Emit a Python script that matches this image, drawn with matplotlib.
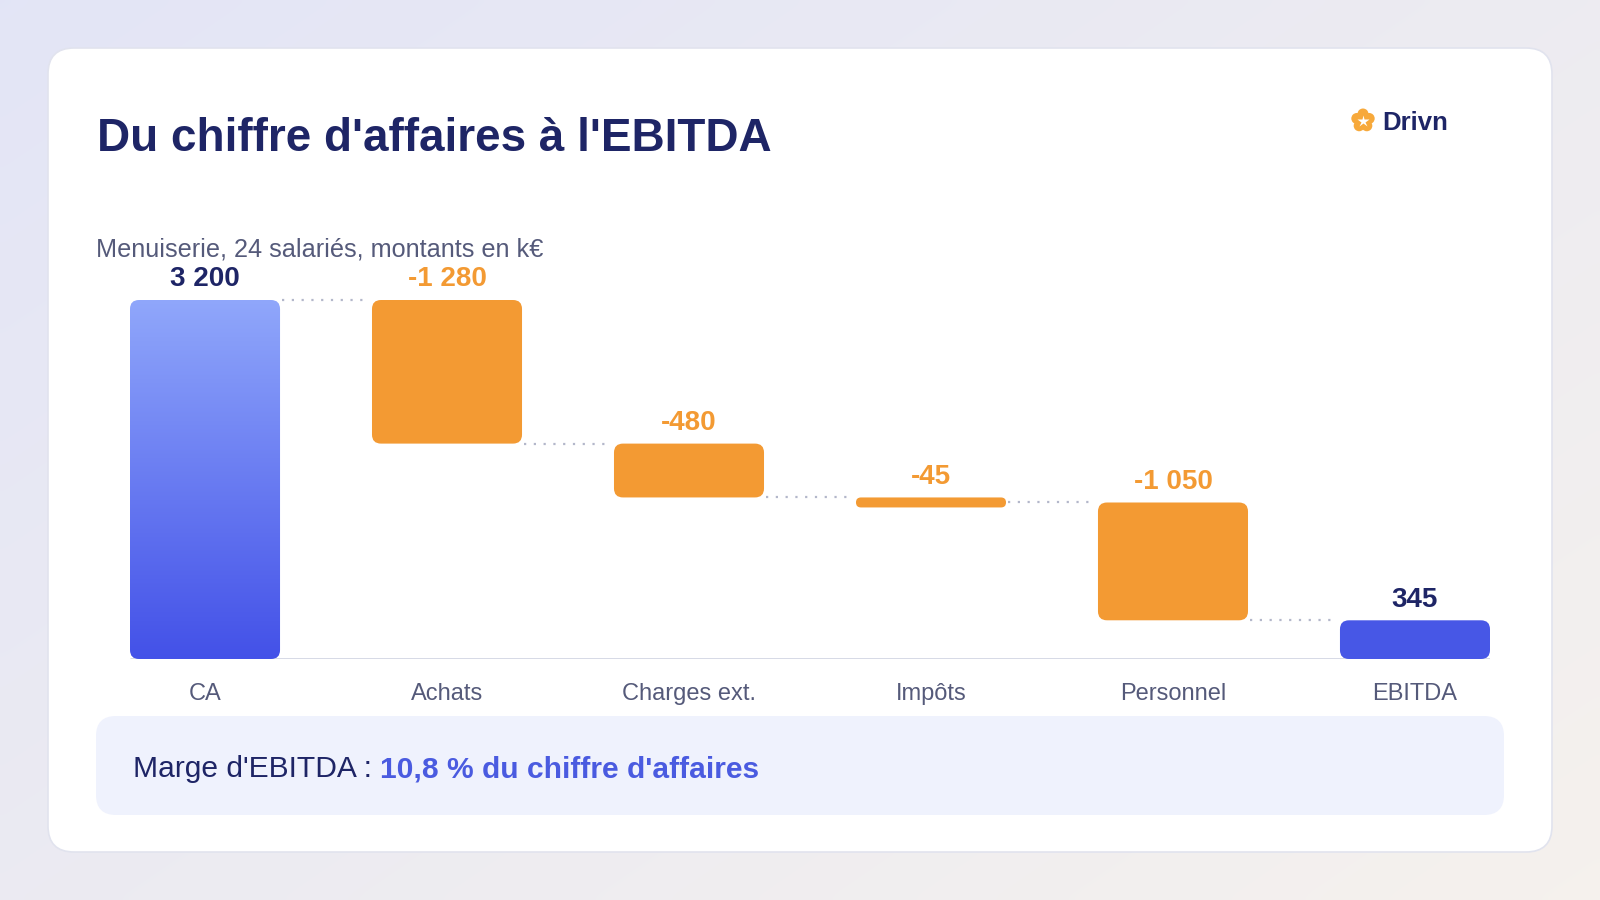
import numpy as np
import matplotlib
matplotlib.use('Agg')
import matplotlib.pyplot as plt
from matplotlib.patches import FancyBboxPatch, Circle
from matplotlib.colors import LinearSegmentedColormap

# ---------------- data ----------------
categories = ["CA", "Achats", "Charges ext.", "Impôts", "Personnel", "EBITDA"]
values = [3200, -1280, -480, -45, -1050, 345]
kinds = ["total", "delta", "delta", "delta", "delta", "total"]
value_labels = ["3 200", "-1 280", "-480", "-45", "-1 050", "345"]

title = "Du chiffre d'affaires à l'EBITDA"
subtitle = "Menuiserie, 24 salariés, montants en k€"
margin_label = "Marge d'EBITDA : "
margin_value = "10,8 % du chiffre d'affaires"
brand = "Drivn"

# ---------------- style ----------------
plt.rcParams['font.family'] = ['Liberation Sans', 'DejaVu Sans']
NAVY = '#1e2566'
ORANGE = '#f39a33'
BLUE = '#4757e6'
GRAY_TXT = '#555a7a'

W, H = 1600, 900
fig = plt.figure(figsize=(16, 9), dpi=100)
bg = fig.add_axes([0, 0, 1, 1])
bg.axis('off')

# background gradient
xx, yy = np.meshgrid(np.linspace(0, 1, 200), np.linspace(0, 1, 120))
t = np.clip(0.55 * xx + 0.45 * yy, 0, 1)
c0 = np.array([0.890, 0.898, 0.965])
c1 = np.array([0.962, 0.946, 0.930])
img = c0[None, None, :] * (1 - t[..., None]) + c1[None, None, :] * t[..., None]
bg.imshow(img, extent=(0, W, H, 0), aspect='auto', zorder=0, interpolation='bicubic')
bg.set_xlim(0, W)
bg.set_ylim(H, 0)

# card
bg.add_patch(FancyBboxPatch((48, 48), 1504, 804, boxstyle='round,pad=0,rounding_size=26',
                            fc='white', ec='#e1e3ee', lw=1.2, zorder=1))
# bottom box
bg.add_patch(FancyBboxPatch((96, 716), 1408, 99, boxstyle='round,pad=0,rounding_size=20',
                            fc='#eff2fd', ec='none', zorder=2))

# texts
bg.text(97, 151, title, fontsize=33, fontweight='bold', color=NAVY, va='baseline', ha='left', zorder=3)
bg.text(96, 256, subtitle, fontsize=18.2, color=GRAY_TXT, va='baseline', ha='left', zorder=3)
t1 = bg.text(133, 777, margin_label, fontsize=21.6, color=NAVY, va='baseline', ha='left', zorder=3)
bg.annotate(margin_value, xy=(1, 0), xycoords=t1, fontsize=21.6, fontweight='bold',
            color='#4a5be0', va='bottom', ha='left', zorder=3)

# logo
cx, cy = 1363, 120.5
for k in range(5):
    a = np.pi / 2 + k * 2 * np.pi / 5
    bg.add_patch(Circle((cx + 6.5 * np.cos(a), cy - 6.5 * np.sin(a)), 5.5, fc='#f7a93b', ec='none', zorder=3))
bg.add_patch(Circle((cx, cy), 7, fc='#f7a93b', ec='none', zorder=3))
bg.plot([cx], [cy], marker='*', ms=9, color='white', mec='none', zorder=4)
bg.text(1382, 129.5, brand, fontsize=18.5, fontweight='bold', color=NAVY, va='baseline', ha='left', zorder=3)

# ---------------- chart ----------------
ax_l, ax_r, ax_b, ax_t = 130, 1490, 659, 300
ax = fig.add_axes([ax_l / W, (H - ax_b) / H, (ax_r - ax_l) / W, (ax_b - ax_t) / H])
ax.patch.set_alpha(0)
ax.axis('off')
XMIN, XMAX = -0.31, len(categories) - 1 + 0.31
YMAX = 3200
ax.set_xlim(XMIN, XMAX)
ax.set_ylim(0, YMAX)
px = (ax_r - ax_l) / (XMAX - XMIN)   # pixels per x unit
py = (ax_b - ax_t) / YMAX            # pixels per y unit
bw = 0.62
MIN_H_PX = 10

ax.plot([XMIN, XMAX], [0, 0], color='#d3d6e4', lw=2.0, solid_capstyle='butt', zorder=1)

cmap = LinearSegmentedColormap.from_list('g', ['#4351e8', '#90a7fb'])
running = 0
levels = []
for i, (v, k) in enumerate(zip(values, kinds)):
    if k == 'total':
        bottom, top = 0, v
        running = v
    else:
        new = running + v
        bottom, top = min(running, new), max(running, new)
        running = new
    levels.append(running)
    h = top - bottom
    draw_bottom = bottom
    if h * py < MIN_H_PX:
        draw_bottom = top - MIN_H_PX / py
    dh = top - draw_bottom
    r_px = min(9, dh * py / 2, bw * px / 2)
    patch = FancyBboxPatch((i - bw / 2, draw_bottom), bw, dh,
                           boxstyle=f"round,pad=0,rounding_size={r_px / px}",
                           mutation_aspect=px / py, lw=0, zorder=3)
    if k == 'total' and i == 0:
        patch.set_facecolor('none')
        patch.set_edgecolor('none')
        ax.add_patch(patch)
        grad = np.linspace(0, 1, 256)[:, None]
        im = ax.imshow(grad, extent=(i - bw / 2, i + bw / 2, draw_bottom, top), origin='lower',
                       cmap=cmap, aspect='auto', zorder=3)
        im.set_clip_path(patch)
        col = NAVY
    elif k == 'total':
        patch.set_facecolor(BLUE)
        ax.add_patch(patch)
        col = NAVY
    else:
        patch.set_facecolor(ORANGE)
        ax.add_patch(patch)
        col = ORANGE
    ax.annotate(value_labels[i], xy=(i, top), xytext=(0, 13.5), textcoords='offset pixels',
                ha='center', va='baseline', fontsize=20, fontweight='bold', color=col,
                annotation_clip=False, zorder=5)
    ax.annotate(categories[i], xy=(i, 0), xytext=(0, -41), textcoords='offset pixels',
                ha='center', va='baseline', fontsize=17, color=GRAY_TXT,
                annotation_clip=False, zorder=5)

ax.set_xlim(XMIN, XMAX)
ax.set_ylim(0, YMAX)

gap = 2 / px
for i in range(len(categories) - 1):
    lvl = levels[i]
    ax.plot([i + bw / 2 + gap, i + 1 - bw / 2 - gap], [lvl, lvl], color='#b3b7ca', lw=1.6,
            linestyle=(0, (1, 3.4)), zorder=2, clip_on=False)

fig.savefig('out.png', dpi=100)
